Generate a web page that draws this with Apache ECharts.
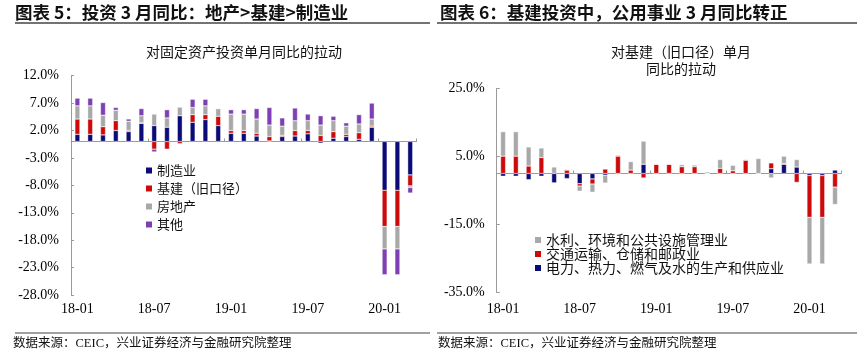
<!DOCTYPE html>
<html><head><meta charset="utf-8">
<script src="https://cdn.jsdelivr.net/npm/echarts@6/dist/echarts.min.js"></script>
<style>html,body{margin:0;padding:0;background:#fff}#c{width:861px;height:356px}</style>
</head><body><div id="c"></div>
<script>
const categories = ['18-01','18-02','18-03','18-04','18-05','18-06','18-07','18-08','18-09','18-10','18-11','18-12',
  '19-01','19-02','19-03','19-04','19-05','19-06','19-07','19-08','19-09','19-10','19-11','19-12','20-01','20-02','20-03'];

// Left panel: 对固定资产投资单月同比的拉动 (pct points)
const manufacturing = [1.3,1.3,1.2,2.0,1.8,3.3,2.9,2.6,4.7,3.5,4.0,2.9,1.5,1.5,1.0,0.1,0.9,1.0,1.4,-0.3,0.6,0.9,0.4,2.6,-8.9,-8.9,-6.1];
const infrastructure = [2.8,2.8,1.5,1.8,0.2,0.1,-1.4,-1.4,-0.4,1.4,0.9,1.7,0.5,0.5,0.5,0.8,0.2,1.0,0.6,1.1,1.2,0.4,1.2,0.2,-6.6,-6.6,-2.0];
const realEstate = [2.4,2.4,2.1,1.9,1.7,1.3,2.1,1.7,1.6,1.3,1.6,1.4,3.0,3.0,2.6,2.1,1.7,1.8,1.8,1.9,2.0,1.5,1.6,1.3,-4.1,-4.1,-0.3];
const others = [1.4,1.4,2.3,0.5,0.4,1.3,-0.5,1.5,0,1.5,1.2,0,0.8,0.8,1.9,3.2,1.5,2.3,1.2,1.7,0.8,0.6,1.7,2.9,-4.7,-4.7,-1.0];
const leftTicks = [-28,-23,-18,-13,-8,-3,2,7,12];

// Right panel: 对基建（旧口径）单月同比的拉动
const utilities = [-0.8,-0.8,-1.8,-0.8,-2.8,-1.5,-3.0,-1.6,-0.5,0,0,2.7,0,0,0,0,0,0,0,0,0,1.4,2.7,1.9,-0.6,-0.6,1.0];
const transport = [5.1,5.1,2.2,4.7,0,1.0,-0.7,-1.5,1.3,5.1,1.0,-1.3,2.7,2.7,2.0,2.0,0.1,1.5,0.8,3.9,0,1.7,0.2,-2.6,-12.3,-12.3,-4.0];
const waterEnv = [7.2,7.2,5.6,2.8,1.9,0.2,-1.5,-2.4,-2.3,0.3,2.5,6.8,0,0,0.6,0.5,0.4,2.6,1.6,0.2,4.4,-1.3,2.2,2.2,-13.7,-13.7,-5.1];
const rightTicks = [-35,-15,5,25];

const leftNames = ['制造业','基建（旧口径）','房地产','其他'];
const rightNames = ['水利、环境和公共设施管理业','交通运输、仓储和邮政业','电力、热力、燃气及水的生产和供应业'];

const NAVY = '#0b0b78', RED = '#cc0a0a', GREY = '#a8a8a8', PURPLE = '#7d3fb3';
const AX = '#9a9a9a';
const serif = '"Liberation Serif","Times New Roman",serif';
const cjk = '"Noto Sans CJK SC","Noto Sans",sans-serif';

function labelAxis(grid, margin){
  return {type:'category', gridIndex:grid, data:categories, position:'bottom',
    axisLine:{show:false, onZero:false}, axisTick:{show:false},
    axisLabel:{interval:5, margin:margin, color:'#000', fontSize:14, fontFamily:serif}};
}
function zeroAxis(grid){
  return {type:'category', gridIndex:grid, data:categories, position:'bottom',
    axisLine:{show:true, onZero:true, lineStyle:{color:AX, width:1}},
    axisTick:{show:true, inside:true, length:3, interval:5, lineStyle:{color:AX}},
    axisLabel:{show:false}, splitLine:{show:false}};
}
function valAxis(grid, min, max, ticks){
  return {type:'value', gridIndex:grid, min:min, max:max,
    axisLine:{show:true, lineStyle:{color:AX}},
    axisTick:{show:true, inside:true, length:3, customValues:ticks, lineStyle:{color:AX}},
    axisLabel:{customValues:ticks, margin:12, color:'#000', fontSize:14, fontFamily:serif,
      formatter:v=>v.toFixed(1)+'%'},
    splitLine:{show:false}};
}
function bar(name, data, color, xi, yi, stack){
  return {type:'bar', name:name, data:data, xAxisIndex:xi, yAxisIndex:yi, stack:stack,
    barWidth:5, itemStyle:{color:color, borderColor:'#fff', borderWidth:0.4}};
}

const chart = echarts.init(document.getElementById('c'), null, {renderer:'canvas'});
chart.setOption({
  animation:false,
  backgroundColor:'#fff',
  grid:[
    {left:71, top:75.7, width:345.6, height:219.3, outerBoundsMode:'none', containLabel:false},
    {left:496.7, top:88.5, width:344.7, height:204, outerBoundsMode:'none', containLabel:false}
  ],
  xAxis:[labelAxis(0,7), zeroAxis(0), labelAxis(1,10), zeroAxis(1)],
  yAxis:[valAxis(0,-28,12,leftTicks), valAxis(1,-35,25,rightTicks)],
  legend:[
    {data:leftNames, orient:'vertical', left:141, top:159, itemWidth:6, itemHeight:6, itemGap:5,
      icon:'rect', itemStyle:{borderWidth:0}, textStyle:{fontSize:13, fontFamily:cjk, color:'#111'}},
    {data:rightNames, orient:'vertical', left:530, top:228, itemWidth:6, itemHeight:6, itemGap:0,
      icon:'rect', itemStyle:{borderWidth:0}, textStyle:{fontSize:14, fontFamily:cjk, color:'#111'}}
  ],
  series:[
    bar(leftNames[0], manufacturing, NAVY, 0, 0, 'L'),
    bar(leftNames[1], infrastructure, RED, 0, 0, 'L'),
    bar(leftNames[2], realEstate, GREY, 0, 0, 'L'),
    bar(leftNames[3], others, PURPLE, 0, 0, 'L'),
    bar(rightNames[2], utilities, NAVY, 2, 1, 'R'),
    bar(rightNames[1], transport, RED, 2, 1, 'R'),
    bar(rightNames[0], waterEnv, GREY, 2, 1, 'R')
  ],
  graphic:[
    {type:'text', x:15, y:12, style:{text:'图表 5：投资 3 月同比：地产>基建>制造业', fontSize:17.5, fontWeight:'bold', fontFamily:cjk, fill:'#111', verticalAlign:'middle'}},
    {type:'text', x:440, y:12, style:{text:'图表 6：基建投资中，公用事业 3 月同比转正', fontSize:17.5, fontWeight:'bold', fontFamily:cjk, fill:'#111', verticalAlign:'middle'}},
    {type:'line', shape:{x1:15, y1:23, x2:430, y2:23}, style:{stroke:'#444', lineWidth:1.5}},
    {type:'line', shape:{x1:437, y1:23, x2:857, y2:23}, style:{stroke:'#444', lineWidth:1.5}},
    {type:'text', x:244, y:52, style:{text:'对固定资产投资单月同比的拉动', fontSize:14, fontFamily:cjk, fill:'#111', align:'center', verticalAlign:'middle'}},
    {type:'text', x:681, y:52, style:{text:'对基建（旧口径）单月', fontSize:14, fontFamily:cjk, fill:'#111', align:'center', verticalAlign:'middle'}},
    {type:'text', x:681, y:69, style:{text:'同比的拉动', fontSize:14, fontFamily:cjk, fill:'#111', align:'center', verticalAlign:'middle'}},
    {type:'line', shape:{x1:15, y1:333, x2:430, y2:333}, style:{stroke:'#444', lineWidth:1.2}},
    {type:'line', shape:{x1:437, y1:333, x2:857, y2:333}, style:{stroke:'#444', lineWidth:1.2}},
    {type:'text', x:13, y:344, style:{text:'数据来源：CEIC，兴业证券经济与金融研究院整理', fontSize:12.5, fontFamily:serif+','+cjk, fill:'#111', verticalAlign:'middle'}},
    {type:'text', x:438, y:344, style:{text:'数据来源：CEIC，兴业证券经济与金融研究院整理', fontSize:12.5, fontFamily:serif+','+cjk, fill:'#111', verticalAlign:'middle'}}
  ]
});
</script></body></html>
